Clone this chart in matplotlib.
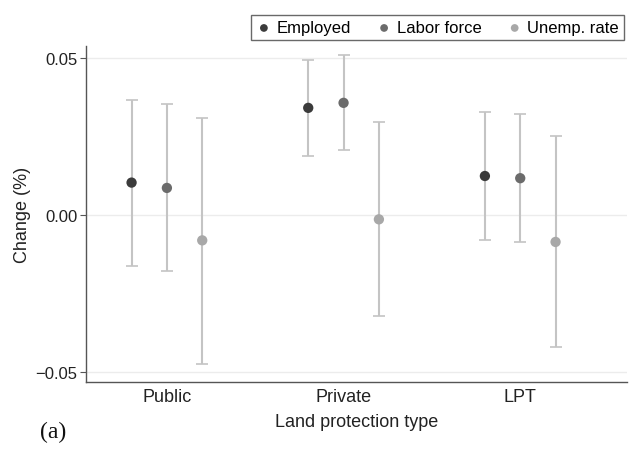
import matplotlib
matplotlib.use("Agg")
import matplotlib.pyplot as plt
import numpy as np

plt.rcParams['font.family'] = ['Liberation Sans', 'DejaVu Sans']

categories = ["Public", "Private", "LPT"]
series = ["Employed", "Labor force", "Unemp. rate"]
estimates = {
    "Employed":    [0.0103, 0.0341, 0.0124],
    "Labor force": [0.0086, 0.0357, 0.0117],
    "Unemp. rate": [-0.0081, -0.0014, -0.0086],
}
upper = {
    "Employed":    [0.0367, 0.0494, 0.0329],
    "Labor force": [0.0353, 0.0508, 0.0321],
    "Unemp. rate": [0.0310, 0.0296, 0.0250],
}
lower = {
    "Employed":    [-0.0163, 0.0188, -0.0080],
    "Labor force": [-0.0179, 0.0207, -0.0087],
    "Unemp. rate": [-0.0475, -0.0323, -0.0422],
}
colors = {"Employed": "#3b3b3b", "Labor force": "#6b6b6b", "Unemp. rate": "#a8a8a8"}
offsets = [-0.2, 0.0, 0.2]

fig = plt.figure(figsize=(6.29, 4.52), dpi=100)
ax = fig.add_axes([0.1367, 0.1527, 0.997 - 0.1367, 0.896 - 0.1527])

x = np.arange(1, len(categories) + 1)
handles = []
for s, off in zip(series, offsets):
    est = np.array(estimates[s])
    lo = est - np.array(lower[s])
    hi = np.array(upper[s]) - est
    ax.errorbar(x + off, est, yerr=[lo, hi], fmt='none', ecolor='#c4c4c4',
                elinewidth=1.5, capsize=4, capthick=1.2, zorder=2)
    h = ax.scatter(x + off, est, s=55, color=colors[s], zorder=3, label=s,
                   edgecolors='none')
    handles.append(h)

ax.set_xlim(0.542, 3.605)
ax.set_ylim(-0.0532, 0.0538)
ax.set_yticks([-0.05, 0.0, 0.05])
ax.set_yticklabels(["\u22120.05", "0.00", "0.05"])
ax.set_xticks(x)
ax.set_xticklabels(categories)
ax.yaxis.grid(True, color='#ececec', linewidth=1)
ax.set_axisbelow(True)
for sp in ['top', 'right']:
    ax.spines[sp].set_visible(False)
for sp in ['left', 'bottom']:
    ax.spines[sp].set_color('#555555')
    ax.spines[sp].set_linewidth(1.0)
ax.tick_params(axis='y', length=4, color='#555555', labelsize=12, labelcolor='#222222', pad=2)
ax.tick_params(axis='x', length=0, labelsize=13, labelcolor='#222222', pad=4)
ax.set_ylabel("Change (%)", fontsize=13, color='#222222', labelpad=3)
ax.set_xlabel("Land protection type", fontsize=13, color='#222222', labelpad=6)

leg = fig.legend(handles=handles, labels=series, loc='upper right',
                 bbox_to_anchor=(1.005, 1 - 8 / 452), ncol=3, fontsize=12,
                 frameon=True, fancybox=False, handletextpad=0.25,
                 columnspacing=1.5, borderpad=0.3, handlelength=1.0,
                 markerscale=0.75)
leg.get_frame().set_edgecolor('#444444')
leg.get_frame().set_linewidth(1.0)

fig.text(40 / 629, 1 - 432 / 452, "(a)", family=['Liberation Serif'], fontsize=17,
         ha='left', va='center', color='#111111')

fig.savefig("out.png", dpi=100)
